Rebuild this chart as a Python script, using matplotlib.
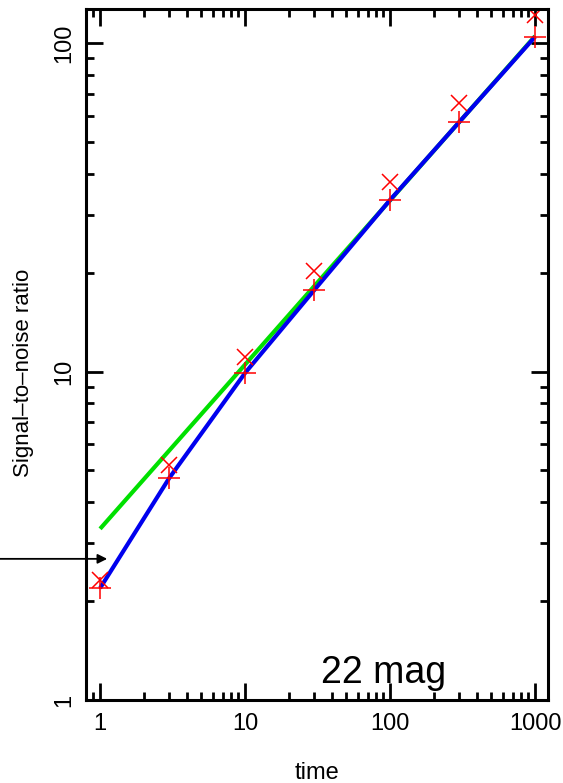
import numpy as np
import matplotlib.pyplot as plt
from matplotlib.ticker import LogLocator, NullFormatter, FixedLocator

plt.rcParams['font.family'] = ['Liberation Sans', 'DejaVu Sans']

# exposure times and measured S/N
time = [1, 3, 10, 30, 100, 300, 1000]
snr_plus = [2.19, 4.74, 9.9, 17.7, 33.3, 57.5, 104.5]
snr_cross = [2.32, 5.19, 11.07, 20.2, 37.7, 65.7, 121.7]

# model curves
model_blue = [2.19, 4.74, 9.9, 17.7, 33.3, 57.5, 104.5]
model_green = [3.32, 5.75, 10.5, 18.2, 33.2, 57.5, 105.0]

arrow_snr = 2.69

fig = plt.figure(figsize=(5.63, 7.83), dpi=100)
ax = fig.add_axes([0.1528, 0.106, 0.8206, 0.8825])

ax.plot(time, model_green, color='#00e000', lw=3, solid_capstyle='butt')
ax.plot(time, model_blue, color='#0000ee', lw=3, solid_capstyle='butt')
ax.plot(time, snr_plus, ls='none', marker='+', ms=16, mew=1.1, color='red')
ax.plot(time, snr_cross, ls='none', marker='x', ms=12, mew=1.1, color='red')

ax.set_xscale('log')
ax.set_yscale('log')
ax.set_xlim(0.80, 1229)
ax.set_ylim(1, 127)

ax.xaxis.set_major_locator(FixedLocator([1, 10, 100, 1000]))
ax.set_xticklabels(['1', '10', '100', '1000'])
ax.yaxis.set_major_locator(FixedLocator([1, 10, 100]))
ax.set_yticklabels(['1', '10', '100'], rotation=90, va='center')
ax.xaxis.set_minor_locator(LogLocator(base=10, subs=np.arange(2, 10), numticks=20))
ax.yaxis.set_minor_locator(LogLocator(base=10, subs=np.arange(2, 10), numticks=20))
ax.xaxis.set_minor_formatter(NullFormatter())
ax.yaxis.set_minor_formatter(NullFormatter())

ax.tick_params(which='both', direction='in', top=True, right=True, width=2, labelsize=17)
ax.tick_params(which='major', length=12, pad=9)
ax.tick_params(which='minor', length=6)
ax.tick_params(axis='y', which='major', pad=8)
for s in ax.spines.values():
    s.set_linewidth(2.2)

ax.set_xlabel('time', fontsize=17, labelpad=20)
ax.set_ylabel('Signal\u2013to\u2013noise ratio', fontsize=16)
ax.yaxis.set_label_coords(-0.112, 0.473)

ax.text(0.643, 0.025, '22 mag', transform=ax.transAxes, fontsize=27,
        ha='center', va='baseline')

ax.annotate('', xy=(1.12, arrow_snr), xycoords='data',
            xytext=(0.0, arrow_snr), textcoords=('figure fraction', 'data'),
            arrowprops=dict(arrowstyle='-|>', color='black', lw=1.3,
                            mutation_scale=14, shrinkA=0, shrinkB=0),
            annotation_clip=False)

fig.savefig('out.png', dpi=100)
